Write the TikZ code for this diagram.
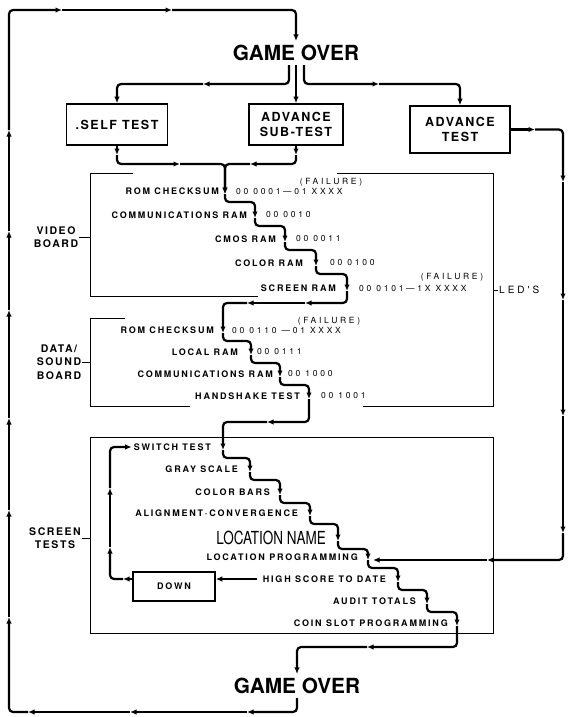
\documentclass[tikz,border=0pt]{standalone}
\usepackage{fontspec}
\setmainfont{TeX Gyre Heros}
\newfontfamily\lblfont[LetterSpace=20]{TeX Gyre Heros}
\newfontfamily\codefont[LetterSpace=32]{TeX Gyre Heros}
\newfontfamily\boxfont[LetterSpace=12]{TeX Gyre Heros}
\newfontfamily\brdfont[LetterSpace=15]{TeX Gyre Heros}
\newfontfamily\ledfont[LetterSpace=30]{TeX Gyre Heros}
\newfontfamily\locfont[FakeStretch=0.75]{TeX Gyre Heros}
\usetikzlibrary{arrows.meta,calc}
\begin{document}
\begin{tikzpicture}[x=1pt,y=-1pt,
  flow/.style={line width=2.2pt, rounded corners=4pt, -{Latex[length=6.5pt,width=5.5pt]}},
  board/.style={line width=0.9pt},
  lbl/.style={font=\lblfont\bfseries\fontsize{9}{10}\selectfont, inner sep=0pt},
  code/.style={font=\codefont\fontsize{8.5}{10}\selectfont, inner sep=0pt},
  testbox/.style={draw, line width=1.6pt, font=\boxfont\bfseries\fontsize{12.5}{15}\selectfont, align=center, inner sep=0pt},
  smallbox/.style={draw, line width=1.6pt, font=\lblfont\bfseries\fontsize{9}{10}\selectfont, inner sep=0pt, minimum width=82pt, minimum height=29pt},
  gameover/.style={font=\bfseries\fontsize{20.8}{24}\selectfont, inner sep=4pt},
  brd/.style={font=\brdfont\bfseries\fontsize{10.5}{13.5}\selectfont, align=center, inner sep=1pt},
  led/.style={font=\ledfont\fontsize{10}{12}\selectfont, inner sep=1pt},
  locname/.style={font=\locfont\fontsize{18}{20}\selectfont, inner sep=0pt}]
\useasboundingbox (0,0) rectangle (568,717);

% ---------- main nodes ----------
\node[gameover] (got) at (296,53) {GAME OVER};
\node[gameover] (gob) at (297,686) {GAME OVER};
\node[testbox, minimum width=101pt, minimum height=41pt] (self) at (117,124.5) {.SELF TEST};
\node[testbox, minimum width=94pt, minimum height=41pt] (sub) at (296,124.5) {ADVANCE\\SUB-TEST};
\node[testbox, minimum width=100pt, minimum height=47pt] (adv) at (460,129.5) {ADVANCE\\TEST};

% ---------- board frames ----------
\coordinate (boxL) at (90,0);
\coordinate (boxR) at (493,0);
\draw[board] (133,173) -- (90,173) -- (90,296) -- (258,296);
\draw[board] (337,173) -- (493,173) -- (493,406) -- (363,406);
\draw[board] (125,318) -- (90,318) -- (90,406) -- (190,406);
\draw[board] (90,437) rectangle (493,633);

\node[brd] (vb) at (56,237) {VIDEO\\BOARD};
\node[brd] (dsb) at (59,362) {DATA/\\SOUND\\BOARD};
\node[brd] (stl) at (55,538) {SCREEN\\TESTS};
\draw[board] (vb.east) -- (vb.east -| boxL);
\draw[board] (dsb.east) -- (dsb.east -| boxL);
\draw[board] (stl.east) -- (stl.east -| boxL);
\node[led, anchor=west] (led) at (498,290) {LED'S};
\draw[board] (led.west) -- (led.west -| boxR);

% ---------- flow points ----------
\coordinate (v1) at (225,194);
\coordinate (v2) at (255,218);
\coordinate (v3) at (285,242);
\coordinate (v4) at (316,266);
\coordinate (v5) at (347,291);
\coordinate (d1) at (223,333);
\coordinate (d2) at (251,355);
\coordinate (d3) at (280,377);
\coordinate (d4) at (309,399);
\coordinate (s1) at (223,450);
\coordinate (s2) at (250,472);
\coordinate (s3) at (280,495);
\coordinate (s4) at (310,516);
\coordinate (s5) at (338,541);
\coordinate (s6) at (368,560);
\coordinate (s7) at (398,582);
\coordinate (s8) at (427,604);
\coordinate (s9) at (457,626);

% ---------- video board texts ----------
\node[lbl, anchor=east] (tv1) at (219,191) {ROM CHECKSUM};
\node[code, anchor=west] (cv1) at (236,191) {00 0001—01 XXXX};
\node[code] (fv1) at (331,182) {(FAILURE)};
\node[lbl, anchor=east] (tv2) at (247,215) {COMMUNICATIONS RAM};
\node[code, anchor=west] (cv2) at (266,215) {00 0010};
\node[lbl, anchor=east] (tv3) at (276,239) {CMOS RAM};
\node[code, anchor=west] (cv3) at (296,239) {00 0011};
\node[lbl, anchor=east] (tv4) at (303,263) {COLOR RAM};
\node[code, anchor=west] (cv4) at (330,263) {00 0100};
\node[lbl, anchor=east] (tv5) at (336,288) {SCREEN RAM};
\node[code, anchor=west] (cv5) at (359,288) {00 0101—1X XXXX};
\node[code] (fv5) at (452,277) {(FAILURE)};

% ---------- data/sound board texts ----------
\node[lbl, anchor=east] (td1) at (214,330) {ROM CHECKSUM};
\node[code, anchor=west] (cd1) at (232,330) {00 0110 —01 XXXX};
\node[code] (fd1) at (329,321) {(FAILURE)};
\node[lbl, anchor=east] (td2) at (238,352) {LOCAL RAM};
\node[code, anchor=west] (cd2) at (257,352) {00 0111};
\node[lbl, anchor=east] (td3) at (273,374) {COMMUNICATIONS RAM};
\node[code, anchor=west] (cd3) at (288,374) {00 1000};
\node[lbl, anchor=east] (td4) at (300,396) {HANDSHAKE TEST};
\node[code, anchor=west] (cd4) at (321,396) {00 1001};

% ---------- screen tests texts ----------
\node[lbl, anchor=east] (tsw) at (211,447) {SWITCH TEST};
\node[lbl, anchor=east] (tgs) at (238,469) {GRAY SCALE};
\node[lbl, anchor=east] (tcb) at (270,492) {COLOR BARS};
\node[lbl, anchor=east] (tal) at (298,513) {ALIGNMENT·CONVERGENCE};
\node[locname, anchor=east] (tln) at (326,538) {LOCATION NAME};
\node[lbl, anchor=east] (tlp) at (358,557) {LOCATION PROGRAMMING};
\node[lbl, anchor=east] (ths) at (386,579) {HIGH SCORE TO DATE};
\node[lbl, anchor=east] (tat) at (416,601) {AUDIT TOTALS};
\node[lbl, anchor=east] (tcs) at (448,623) {COIN SLOT PROGRAMMING};
\node[smallbox] (down) at (174,586.5) {DOWN};

% ---------- flow: top ----------
\coordinate (brL) at (203,84);
\coordinate (brR) at (379,84);
\draw[flow] ([xshift=-7pt]got.south) |- (brL);
\draw[flow] (brL) -| (self.north);
\draw[flow] (got.south) -- (sub.north);
\draw[flow] ([xshift=8pt]got.south) |- (brR);
\draw[flow] (brR) -| (adv.north);

\coordinate (mA) at (117,155);
\coordinate (mB) at (180,164);
\coordinate (mD) at (296,155);
\coordinate (mE) at (250,164);
\draw[flow] (self.south) -- (mA);
\draw[flow] (mA) |- (mB);
\draw[flow] (mB) -| (v1);
\draw[flow] (sub.south) -- (mD);
\draw[flow] (mD) |- (mE);
\draw[flow] (mE) -| (v1);

% ---------- staircases ----------
\foreach \a/\b in {v1/v2,v2/v3,v3/v4,v4/v5,d1/d2,d2/d3,d3/d4,
                   s1/s2,s2/s3,s3/s4,s4/s5,s5/s6,s6/s7,s7/s8,s8/s9}
  \draw[flow] (\a) -- ($(\a)+(0,8)$) -| (\b);

\coordinate (vd1) at (305,303);
\coordinate (vd2) at (247,303);
\draw[flow] (v5) |- (vd1);
\draw[flow] (vd1) -- (vd2);
\draw[flow] (vd2) -| (d1);

\coordinate (ds1) at (267,422);
\draw[flow] (d4) |- (ds1);
\draw[flow] (ds1) -| (s1);

\coordinate (sg1) at (367,647);
\draw[flow] (s9) |- (sg1);
\draw[flow] (sg1) -| (gob.north);

% ---------- down loop ----------
\coordinate (lpA) at (123,579);
\coordinate (lpB) at (110,547);
\coordinate (lpC) at (110,488);
\draw[flow] ([xshift=-6pt]ths.west) -- (ths.west -| down.east);
\draw[flow] (ths.west -| down.west) -- (lpA);
\draw[flow] (lpA) -| (lpB);
\draw[flow] (lpB) -- (lpC);
\draw[flow] (lpC) |- ([xshift=-2pt]tsw.west);

% ---------- right loop (advance test) ----------
\coordinate (rA) at (535,129.5);
\coordinate (rB) at (563,182);
\coordinate (rC) at (563,300);
\coordinate (rD) at (563,416);
\coordinate (rE) at (563,533);
\coordinate (rF) at (487,560);
\coordinate (rG) at (373,560);
\draw[flow] (adv.east) -- (rA);
\draw[flow] (rA) -| (rB);
\draw[flow] (rB) -- (rC);
\draw[flow] (rC) -- (rD);
\draw[flow] (rD) -- (rE);
\draw[flow] (rE) |- (rF);
\draw[flow] (rF) -- (rG);

% ---------- outer loop ----------
\coordinate (bA) at (247,712);
\coordinate (bB) at (130,712);
\coordinate (bC) at (28,712);
\coordinate (lA) at (9,617);
\coordinate (lB) at (9,510);
\coordinate (lC) at (9,418);
\coordinate (lD) at (9,310);
\coordinate (lE) at (9,231);
\coordinate (lF) at (9,130);
\coordinate (tA) at (62,10);
\coordinate (tB) at (172,10);
\draw[flow] (gob.south) |- (bA);
\draw[flow] (bA) -- (bB);
\draw[flow] (bB) -- (bC);
\draw[flow] (bC) -| (lA);
\draw[flow] (lA) -- (lB);
\draw[flow] (lB) -- (lC);
\draw[flow] (lC) -- (lD);
\draw[flow] (lD) -- (lE);
\draw[flow] (lE) -- (lF);
\draw[flow] (lF) |- (tA);
\draw[flow] (tA) -- (tB);
\draw[flow] (tB) -| (got.north);
\end{tikzpicture}
\end{document}
